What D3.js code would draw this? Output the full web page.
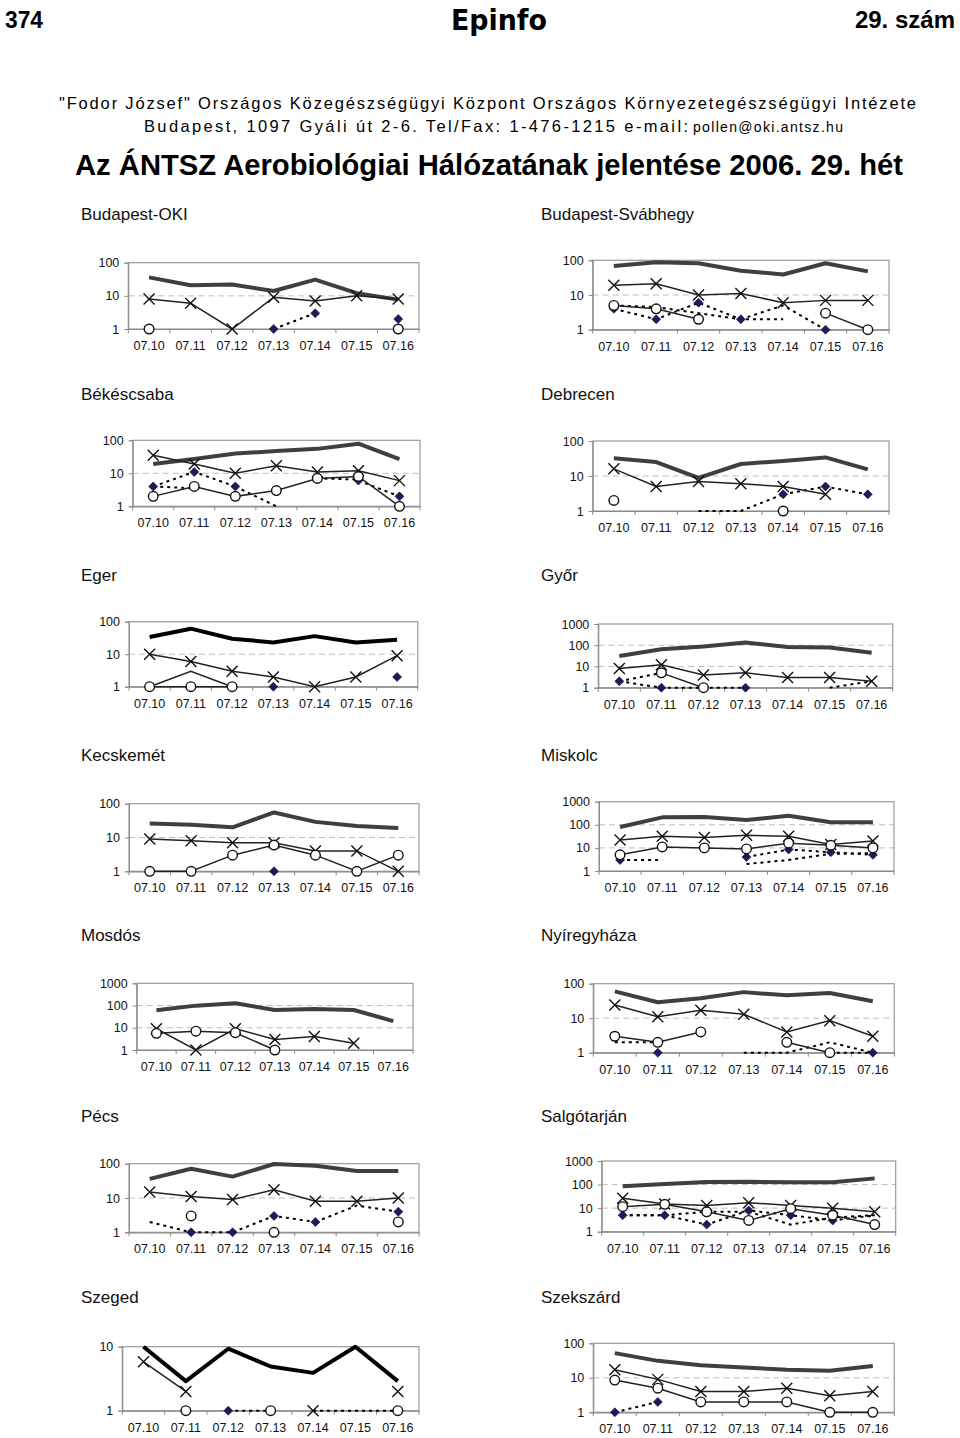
<!DOCTYPE html>
<html>
<head>
<meta charset="utf-8">
<script src="https://cdn.jsdelivr.net/npm/d3@7"></script>
<style>
html,body{margin:0;padding:0;background:#fff;}
svg{display:block;}
</style>
</head>
<body>
<svg id="chart" width="960" height="1438"></svg>
<script>
// ---------- DATA ----------
const dates = ["07.10","07.11","07.12","07.13","07.14","07.15","07.16"];
const stations = ["Budapest-OKI","Budapest-Svábhegy","Békéscsaba","Debrecen","Eger","Győr",
  "Kecskemét","Miskolc","Mosdós","Nyíregyháza","Pécs","Salgótarján","Szeged","Szekszárd"];
const yMaxes = [100,100,100,100,100,1000,100,1000,1000,100,100,1000,10,100];
const N = null;
// thick line
const totalSeries = [
  [36,21,22,14,31,12,7.7],
  [69,88,82,50,39,82,48],
  [19,27,40,47,55,79,27],
  [32,25,8.8,22,27,34,15.5],
  [34,61,30,23,36,23,28],
  [31,64,88,136,82,79,44],
  [26,24,20,55,29,22,19],
  [80,210,218,161,248,128,128],
  [61,99,126,63,70,63,20],
  [60,29,38,57,46,54,31],
  [36,71,42,98,87,61,61],
  [84,105,128,132,124,124,183],
  [10,2.9,9.3,4.9,3.9,10,2.9],
  [52,31,23,20,17,16,22]
];
// thin line with X markers
const crossSeries = [
  [8,6,1,9,7,10,8],
  [19,21,10,11,6,7,7],
  [35,19,10,17,11,12,6],
  [16,5,7,6,5,3,N],
  [10,6,3,2,1,2,9],
  [8,12,4,5,3,3,2],
  [9,8,7,7,4,4,1],
  [22,32,28,35,32,14,20],
  [9,1,9,3,4,2,N],
  [24,11,17,13,4,8.5,3],
  [15,11,9,17.5,8,8,10],
  [26,15,13,17,13,10,7],
  [5.8,2,N,N,1,N,2],
  [17,9,4,4,5,3,4]
];
// thin line with open circles
const circleSeries = [
  [1,N,N,N,N,N,1],
  [5,4,2,N,N,3,1],
  [2,4,2,3,7,8,1],
  [2,N,N,N,1,N,N],
  [1,1,1,N,N,N,N],
  [N,5,1,N,N,N,N],
  [1,1,3,6,3,1,3],
  [5,11,10,9,16,13,10],
  [5.6,7,6,1,N,N,N],
  [3,2,4,N,2,1,N],
  [N,3,N,1,N,N,2],
  [11.5,14.5,7,3,9.5,5,2],
  [N,1,N,1,N,N,1],
  [8.6,5,2,2,2,1,1]
];
// dotted line with filled diamonds
const diamondSeries = [
  [N,N,N,1,3,N,2],
  [4,2,6,2,N,1,N],
  [4,11,4,N,N,6,2],
  [N,N,N,N,3,5,3],
  [N,N,N,1,N,N,2],
  [2,1,1,1,N,N,N],
  [N,N,N,1,N,N,N],
  [3,N,N,4,8.5,6.5,5],
  [N,N,N,N,N,N,N],
  [N,1,N,N,N,1,1],
  [N,1,1,3,2,N,4],
  [5,5,2,8,5,3,N],
  [N,N,1,1,N,N,N],
  [1,2,N,N,N,N,N]
];
// dotted line without markers
const dottedSeries = [
  [N,N,N,N,N,N,N],
  [5,4.5,3,2,2,N,N],
  [4,3.5,N,N,7,6.5,N],
  [N,N,1,1,3,N,N],
  [N,N,N,N,N,N,N],
  [2,5,N,N,N,1,2],
  [N,N,N,N,N,N,N],
  [3,3,N,2,3,5.5,6],
  [N,N,N,N,N,N,N],
  [2,2,N,1,1,2,1],
  [2,1,N,N,2,6,4],
  [5,5,7,7,2,4,5],
  [N,N,N,N,1,1,1],
  [N,N,N,N,N,N,N]
];
// dotted extra (diamond chains whose marker is hidden)
const dottedSeries2 = [
  [N,N,N,N,N,N,N],
  [N,N,N,2,5,1,N],
  [N,N,4,1,N,N,N],
  [N,N,N,N,N,N,N],
  [N,N,N,N,N,N,N],
  [N,N,N,N,N,N,N],
  [N,N,N,N,N,N,N],
  [N,N,N,N,N,N,N],
  [N,N,N,N,N,N,N],
  [N,N,N,N,N,N,N],
  [N,N,N,N,N,N,N],
  [N,N,N,N,N,3,5],
  [N,N,N,N,N,N,N],
  [N,N,N,N,N,N,N]
];
// thin line without markers
const plainSeries = [
  [N,N,N,N,N,N,N],[N,N,N,N,N,N,N],[N,N,N,N,N,N,N],[N,N,N,N,N,N,N],
  [1,3,1,N,N,N,N],
  [N,N,N,N,N,N,N],[N,N,N,N,N,N,N],[N,N,N,N,N,N,N],[N,N,N,N,N,N,N],
  [N,N,N,N,N,N,N],[N,N,N,N,N,N,N],[N,N,N,N,N,N,N],[N,N,N,N,N,N,N],[N,N,N,N,N,N,N]
];

// ---------- LAYOUT ----------
const layout = [
  {tx:81, ty:220, L:128.3, R:419, T:262.7, B:329},
  {tx:541, ty:220, L:592.7, R:889, T:260.3, B:329.7},
  {tx:81, ty:400, L:132.7, R:420, T:440.3, B:506.3},
  {tx:541, ty:400, L:592.7, R:889, T:441, B:511},
  {tx:81, ty:581, L:129, R:417.7, T:621.7, B:686.7},
  {tx:541, ty:581, L:598.3, R:892.7, T:624, B:687.7},
  {tx:81, ty:761, L:129, R:419, T:803.7, B:871.3},
  {tx:541, ty:761, L:599, R:894, T:801.7, B:871},
  {tx:81, ty:941, L:136.7, R:413, T:983.3, B:1050},
  {tx:541, ty:941, L:593.3, R:894.3, T:983.7, B:1052.7},
  {tx:81, ty:1121.5, L:129, R:419, T:1163.7, B:1232.3},
  {tx:541, ty:1121.5, L:601.7, R:895.7, T:1161, B:1231.7},
  {tx:81, ty:1302.5, L:122.3, R:419, T:1346.7, B:1410.7},
  {tx:541, ty:1302.5, L:593.3, R:894.3, T:1343.3, B:1412.3}
];
const thickColors = ["#3f3f3f","#3f3f3f","#3f3f3f","#3f3f3f","#000","#3f3f3f","#3f3f3f",
  "#3f3f3f","#3f3f3f","#3f3f3f","#3f3f3f","#3f3f3f","#000","#3f3f3f"];

const svg = d3.select("#chart");
svg.append("rect").attr("width",960).attr("height",1438).attr("fill","#fff");

// ---------- HEADER ----------
const narrow = "'Liberation Sans Narrow','Arial Narrow','Liberation Sans',Arial,sans-serif";
svg.append("text").attr("x",5).attr("y",28).attr("font-family","'Liberation Sans',Arial,sans-serif").attr("font-weight","bold")
  .attr("font-size",23).attr("textLength",38).attr("lengthAdjust","spacingAndGlyphs").text("374");
svg.append("text").attr("x",955).attr("y",28).attr("text-anchor","end").attr("font-family",narrow)
  .attr("font-weight","bold").attr("font-size",24).text("29. szám");
svg.append("text").attr("x",451).attr("y",30).attr("font-family","'DejaVu Sans',sans-serif")
  .attr("font-weight","900").attr("font-size",28).attr("textLength",96)
  .attr("lengthAdjust","spacingAndGlyphs").text("Epinfo");
svg.append("text").attr("x",59).attr("y",109).attr("font-family","'Liberation Sans',Arial,sans-serif")
  .attr("font-size",16.5).attr("textLength",857).attr("lengthAdjust","spacing")
  .text("\"Fodor József\" Országos Közegészségügyi Központ Országos Környezetegészségügyi Intézete");
svg.append("text").attr("x",144).attr("y",132).attr("font-family","'Liberation Sans',Arial,sans-serif")
  .attr("font-size",16.5).attr("textLength",544).attr("lengthAdjust","spacing")
  .text("Budapest, 1097 Gyáli út 2-6. Tel/Fax: 1-476-1215 e-mail:");
svg.append("text").attr("x",693).attr("y",132).attr("font-family","'Liberation Sans',Arial,sans-serif")
  .attr("font-size",14).attr("textLength",150).attr("lengthAdjust","spacing")
  .text("pollen@oki.antsz.hu");
svg.append("text").attr("x",75).attr("y",175).attr("font-family",narrow).attr("font-weight","bold")
  .attr("font-size",30).attr("textLength",828).attr("lengthAdjust","spacingAndGlyphs")
  .text("Az ÁNTSZ Aerobiológiai Hálózatának jelentése 2006. 29. hét");

// ---------- PANELS ----------
const font = "'Liberation Sans',Arial,sans-serif";
stations.forEach((name, i) => {
  const lay = layout[i];
  const g = svg.append("g");
  g.append("text").attr("x",lay.tx).attr("y",lay.ty).attr("font-family",font)
    .attr("font-size",17).attr("fill","#111").text(name);

  const x = d3.scaleBand().domain(dates).range([lay.L, lay.R]).padding(0);
  const cx = d => x(d) + x.bandwidth()/2;
  const y = d3.scaleLog().domain([1, yMaxes[i]]).range([lay.B, lay.T]);
  const decades = d3.range(0, Math.round(Math.log10(yMaxes[i])) + 1).map(p => Math.pow(10, p));

  // gridlines
  g.selectAll(".grid").data(decades.filter(v => v > 1 && v < yMaxes[i])).enter().append("line")
    .attr("x1", lay.L).attr("x2", lay.R).attr("y1", d => y(d)).attr("y2", d => y(d))
    .attr("stroke","#bdbdbd").attr("stroke-width",1).attr("stroke-dasharray","6,4");
  // frame
  g.append("rect").attr("x",lay.L).attr("y",lay.T).attr("width",lay.R-lay.L).attr("height",lay.B-lay.T)
    .attr("fill","none").attr("stroke","#9a9a9a").attr("stroke-width",1.2);

  // y axis
  const yAxis = d3.axisLeft(y).tickValues(decades).tickFormat(d3.format("d")).tickSize(4).tickPadding(5);
  const ya = g.append("g").attr("transform",`translate(${lay.L},0)`).call(yAxis);
  ya.select(".domain").attr("stroke","#8a8a8a");
  ya.selectAll(".tick line").attr("stroke","#8a8a8a");
  ya.selectAll("text").attr("font-family",font).attr("font-size",12.5).attr("fill","#111");

  // x axis labels
  const xAxis = d3.axisBottom(x).tickSize(0).tickPadding(12);
  const xa = g.append("g").attr("transform",`translate(0,${lay.B})`).call(xAxis);
  xa.select(".domain").attr("stroke","#8a8a8a").attr("stroke-width",1.2);
  xa.selectAll("text").attr("font-family",font).attr("font-size",12.5).attr("fill","#111");
  // band boundary ticks
  g.selectAll(".bt").data(dates.concat(["end"])).enter().append("line")
    .attr("x1",(d,k)=> k<dates.length ? x(d) : lay.R).attr("x2",(d,k)=> k<dates.length ? x(d) : lay.R)
    .attr("y1",lay.B).attr("y2",lay.B+4).attr("stroke","#8a8a8a").attr("stroke-width",1);

  const pts = arr => arr.map((v,k)=>({d:dates[k], v}));
  const line = d3.line().defined(p => p.v != null).x(p => cx(p.d)).y(p => y(p.v));

  // thick
  g.append("path").datum(pts(totalSeries[i])).attr("d",line).attr("fill","none")
    .attr("stroke",thickColors[i]).attr("stroke-width",4).attr("stroke-linejoin","round");
  // plain thin
  g.append("path").datum(pts(plainSeries[i])).attr("d",line).attr("fill","none")
    .attr("stroke","#222").attr("stroke-width",1.5);
  // dotted lines
  [diamondSeries[i], dottedSeries[i], dottedSeries2[i]].forEach(s => {
    g.append("path").datum(pts(s)).attr("d",line).attr("fill","none")
      .attr("stroke","#000").attr("stroke-width",2).attr("stroke-dasharray","3,4");
  });
  // cross line
  g.append("path").datum(pts(crossSeries[i])).attr("d",line).attr("fill","none")
    .attr("stroke","#222").attr("stroke-width",1.5);
  // circle line
  g.append("path").datum(pts(circleSeries[i])).attr("d",line).attr("fill","none")
    .attr("stroke","#222").attr("stroke-width",1.5);

  // diamonds
  g.selectAll(".dm").data(pts(diamondSeries[i]).filter(p=>p.v!=null)).enter().append("path")
    .attr("d","M0,-4.5L4.5,0L0,4.5L-4.5,0Z")
    .attr("transform",p=>`translate(${cx(p.d)},${y(p.v)})`)
    .attr("fill","#1b1b5e").attr("stroke","#0d0d3a").attr("stroke-width",0.6);
  // crosses
  g.selectAll(".cr").data(pts(crossSeries[i]).filter(p=>p.v!=null)).enter().append("path")
    .attr("d","M-5.5,-5.5L5.5,5.5M-5.5,5.5L5.5,-5.5")
    .attr("transform",p=>`translate(${cx(p.d)},${y(p.v)})`)
    .attr("fill","none").attr("stroke","#111").attr("stroke-width",1.4);
  // circles
  g.selectAll(".ci").data(pts(circleSeries[i]).filter(p=>p.v!=null)).enter().append("circle")
    .attr("cx",p=>cx(p.d)).attr("cy",p=>y(p.v)).attr("r",4.8)
    .attr("fill","#fff").attr("stroke","#111").attr("stroke-width",1.4);
});
</script>
</body>
</html>
